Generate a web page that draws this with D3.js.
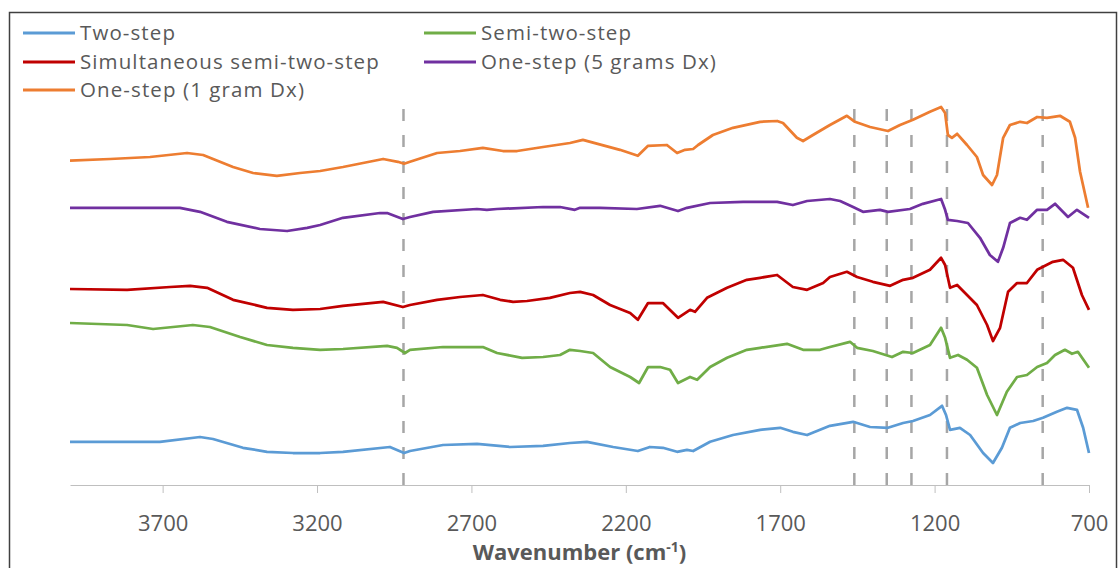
<!DOCTYPE html>
<html>
<head>
<meta charset="utf-8">
<script src="https://cdn.jsdelivr.net/npm/d3@7"></script>
<style>
  body { margin: 0; background: #fff; }
  svg { display: block; font-family: "Open Sans", "Noto Sans", sans-serif; }
</style>
</head>
<body>
<div id="chart"></div>
<script>
// wavenumber (cm-1), offset intensity (arbitrary units)
var two_step = [
  [4000,10.8],[3815,10.8],[3709,10.8],[3579,12.0],[3537,11.5],[3440,9.3],[3362,8.3],[3278,8.0],
  [3190,8.0],[3116,8.3],[2964,9.5],[2918,8.0],[2899,8.5],[2792,10.0],[2682,10.3],[2575,9.5],
  [2468,9.8],[2381,10.5],[2326,10.8],[2241,9.5],[2161,8.5],[2122,9.5],[2080,9.3],[2034,8.3],
  [2002,8.8],[1982,8.5],[1927,10.8],[1853,12.5],[1765,13.8],[1700,14.3],[1659,13.3],[1613,12.5],
  [1571,13.8],[1539,14.8],[1464,15.8],[1409,14.5],[1351,14.3],[1302,15.5],[1270,16.0],[1215,17.5],
  [1176,19.8],[1163,17.5],[1150,13.8],[1118,14.3],[1085,12.5],[1043,8.0],[1011,5.5],[982,9.3],
  [956,14.3],[923,15.5],[881,16.0],[849,16.8],[804,18.3],[771,19.3],[739,18.8],[719,14.3],[700,8.0]
];
var semi_two_step = [
  [4000,40.5],[3815,40.0],[3731,39.0],[3602,40.0],[3547,39.5],[3449,37.0],[3362,35.0],[3278,34.3],
  [3190,33.8],[3116,34.0],[2973,34.8],[2941,34.3],[2915,33.0],[2899,33.8],[2792,34.5],[2663,34.5],
  [2617,33.0],[2536,31.8],[2468,32.0],[2413,32.5],[2381,33.8],[2348,33.5],[2306,33.0],[2251,29.5],
  [2186,27.0],[2157,25.5],[2128,29.5],[2089,29.5],[2057,28.8],[2031,25.5],[1992,27.0],[1969,26.3],
  [1927,29.5],[1872,31.8],[1808,33.8],[1765,34.3],[1678,35.3],[1626,33.8],[1571,33.8],[1539,34.5],
  [1474,35.8],[1451,34.3],[1400,33.5],[1338,32.0],[1302,33.3],[1270,33.0],[1215,35.0],[1179,39.3],
  [1166,36.8],[1150,31.8],[1124,32.5],[1095,31.3],[1063,29.3],[1030,22.5],[998,17.5],[966,23.3],
  [933,27.0],[901,27.5],[868,29.5],[836,30.5],[810,32.5],[778,33.8],[755,32.8],[736,33.3],[700,29.3]
];
var simultaneous = [
  [4000,49.0],[3815,48.8],[3676,49.5],[3611,49.8],[3556,49.3],[3472,46.3],[3362,44.3],[3278,43.8],
  [3190,44.0],[3116,44.8],[2986,45.8],[2922,44.5],[2899,45.0],[2811,46.3],[2737,47.0],[2663,47.5],
  [2607,46.3],[2565,45.8],[2520,46.0],[2446,46.8],[2381,48.0],[2348,48.3],[2306,47.5],[2251,45.0],
  [2186,43.0],[2161,41.3],[2128,45.5],[2080,45.5],[2031,41.8],[1992,43.8],[1976,43.3],[1937,46.8],
  [1872,49.3],[1808,51.3],[1765,51.8],[1710,52.5],[1659,49.5],[1613,48.8],[1561,50.5],[1539,52.0],
  [1484,53.3],[1451,52.0],[1400,50.8],[1344,49.8],[1302,51.3],[1270,51.8],[1215,53.8],[1179,56.8],
  [1166,55.0],[1150,49.3],[1127,50.0],[1095,47.5],[1063,45.0],[1030,40.0],[1011,36.0],[988,39.3],
  [962,48.3],[933,50.5],[901,50.5],[868,53.8],[817,55.8],[784,56.3],[752,54.3],[723,47.5],[700,43.8]
];
var one_step_5g = [
  [4000,69.3],[3815,69.3],[3644,69.3],[3579,68.3],[3492,65.8],[3385,64.0],[3297,63.5],[3232,64.3],
  [3190,65.0],[3116,66.8],[2996,68.0],[2973,68.0],[2922,66.5],[2899,67.0],[2824,68.3],[2682,69.0],
  [2650,68.8],[2617,69.0],[2468,69.5],[2413,69.5],[2365,68.8],[2348,69.3],[2284,69.3],[2164,69.0],
  [2089,69.8],[2031,68.5],[2002,69.3],[1927,70.5],[1820,70.8],[1710,70.8],[1659,70.0],[1613,71.0],
  [1539,71.5],[1506,71.0],[1464,69.5],[1432,68.3],[1377,68.8],[1351,68.3],[1280,69.0],[1238,70.3],
  [1179,71.5],[1166,68.8],[1157,66.3],[1127,66.0],[1092,65.5],[1053,61.8],[1021,57.5],[995,55.8],
  [978,59.3],[956,65.5],[923,66.8],[901,66.3],[868,68.8],[836,68.8],[810,70.3],[768,67.0],
  [739,68.8],[700,66.8]
];
var one_step_1g = [
  [4000,81.1],[3870,81.5],[3741,82.0],[3621,83.0],[3569,82.5],[3472,79.5],[3407,78.0],[3330,77.3],
  [3255,78.0],[3190,78.5],[3116,79.5],[2986,81.5],[2938,80.8],[2918,80.3],[2899,80.8],[2811,83.0],
  [2737,83.5],[2663,84.3],[2598,83.5],[2552,83.5],[2468,84.5],[2381,85.5],[2339,86.3],[2219,83.8],
  [2161,82.3],[2128,84.8],[2067,85.0],[2034,83.0],[2008,83.8],[1982,84.0],[1966,85.0],[1918,87.5],
  [1853,89.3],[1765,90.8],[1710,91.0],[1691,90.5],[1646,86.8],[1626,86.0],[1594,87.5],[1539,90.0],
  [1484,92.3],[1458,90.8],[1409,89.5],[1351,88.5],[1312,90.0],[1270,91.3],[1215,93.3],[1179,94.5],
  [1166,93.0],[1157,87.5],[1144,86.8],[1127,87.8],[1095,85.0],[1063,82.0],[1043,77.5],[1014,75.0],
  [998,77.5],[978,86.8],[956,90.0],[923,90.8],[901,90.5],[868,92.0],[836,91.8],[794,92.3],
  [762,90.8],[745,86.8],[729,78.3],[703,69.3]
];

var series_names = ["Two-step", "Semi-two-step", "Simultaneous semi-two-step", "One-step (5 grams Dx)", "One-step (1 gram Dx)"];
var series_data = [two_step, semi_two_step, simultaneous, one_step_5g, one_step_1g];
var series_colors = ["#5b9bd5", "#70ad47", "#c00000", "#7030a0", "#ed7d31"];
var tick_values = [3700, 3200, 2700, 2200, 1700, 1200, 700];
var marker_lines = [2920, 1460, 1355, 1275, 1160, 850];

var width = 1118, height = 568;
var svg = d3.select("#chart").append("svg")
    .attr("width", width)
    .attr("height", height);

// outer frame
svg.append("rect")
    .attr("x", 9.5).attr("y", 12.5)
    .attr("width", 1107).attr("height", 565)
    .attr("fill", "none")
    .attr("stroke", "#404040")
    .attr("stroke-width", 1.5);

var x = d3.scaleLinear().domain([4000, 700]).range([70, 1089]);
var y = d3.scaleLinear().domain([0, 100]).range([485, 85]);

// dashed reference lines
svg.append("g")
    .selectAll("line")
    .data(marker_lines)
    .enter().append("line")
    .attr("x1", function (d) { return x(d); })
    .attr("x2", function (d) { return x(d); })
    .attr("y1", y(0))
    .attr("y2", y(96))
    .attr("stroke", "#a6a6a6")
    .attr("stroke-width", 2.5)
    .attr("stroke-dasharray", "12,14");

// x axis
var axis = svg.append("g")
    .attr("transform", "translate(0," + y(0) + ")")
    .call(d3.axisBottom(x).tickValues(tick_values).tickSize(8).tickSizeOuter(0).tickPadding(22)
        .tickFormat(d3.format("d")));
axis.select(".domain").attr("stroke", "#bfbfbf").attr("stroke-width", 1);
axis.selectAll(".tick line").attr("stroke", "#bfbfbf");
axis.selectAll(".tick text")
    .attr("fill", "#595959")
    .style("font-size", "22px")
    .style("font-family", "'Open Sans', sans-serif");

var title = svg.append("text")
    .attr("x", (x.range()[0] + x.range()[1]) / 2)
    .attr("y", 560)
    .attr("text-anchor", "middle")
    .attr("fill", "#595959")
    .style("font-size", "22px")
    .style("font-weight", "bold");
title.append("tspan").text("Wavenumber (cm");
title.append("tspan").attr("dy", -8).style("font-size", "14px").text("-1");
title.append("tspan").attr("dy", 8).text(")");

// spectra
var line = d3.line()
    .x(function (d) { return x(d[0]); })
    .y(function (d) { return y(d[1]); });

svg.append("g")
    .selectAll("path")
    .data(series_data)
    .enter().append("path")
    .attr("d", line)
    .attr("fill", "none")
    .attr("stroke", function (d, i) { return series_colors[i]; })
    .attr("stroke-width", 2.75)
    .attr("stroke-linejoin", "round");

// legend
var legend_pos = [[23, 33], [424, 33], [23, 62], [424, 62], [23, 90]];
var legend = svg.append("g")
    .selectAll("g")
    .data(series_names)
    .enter().append("g")
    .attr("transform", function (d, i) {
        return "translate(" + legend_pos[i][0] + "," + legend_pos[i][1] + ")";
    });
legend.append("line")
    .attr("x1", 0).attr("x2", 52)
    .attr("stroke", function (d, i) { return series_colors[i]; })
    .attr("stroke-width", 3);
legend.append("text")
    .attr("x", 57)
    .attr("dy", "0.35em")
    .attr("fill", "#595959")
    .style("font-size", "20.5px")
    .style("letter-spacing", "1.1px")
    .text(function (d) { return d; });
</script>
</body>
</html>
